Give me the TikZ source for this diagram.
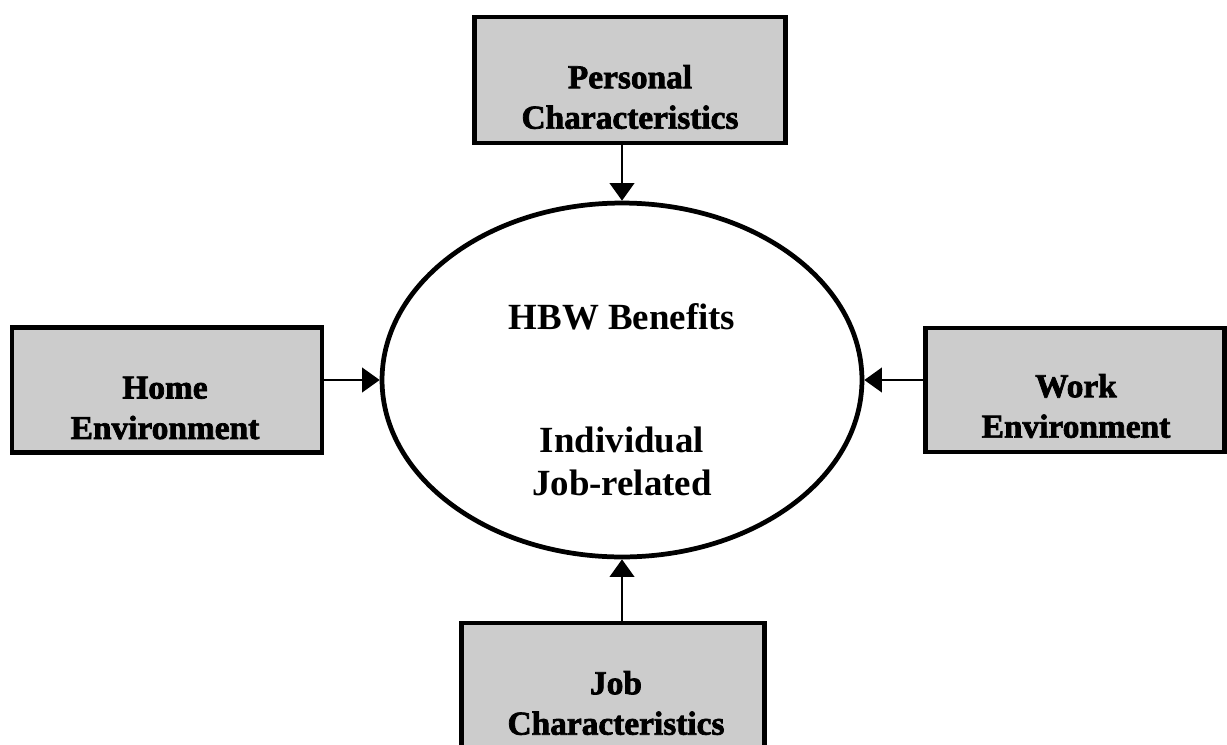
\documentclass[tikz,border=0pt]{standalone}
\usepackage{fontspec}
\setmainfont{Liberation Serif}
\newfontfamily\heavyfont[FakeBold=2.2]{Liberation Serif Bold}
\usetikzlibrary{shapes.geometric,arrows.meta}

\begin{document}
\begin{tikzpicture}[x=0.02cm,y=-0.02cm,
	factor/.style={draw,line width=2.8pt,fill=black!20,rectangle,inner sep=0pt},
	factorlabel/.style={align=center,font=\heavyfont\fontsize{19}{23}\selectfont},
	benefitlabel/.style={align=center,font=\bfseries\fontsize{21}{24.5}\selectfont},
	conn/.style={line width=1.2pt,-{Triangle[length=10pt,width=14pt]}}]
	%frame
	\useasboundingbox (0,0) rectangle (1227,744);
	\clip (0,0) rectangle (1227,744);
	
	%centre
	\node[draw,ellipse,line width=2.7pt,minimum width=9.6cm,minimum height=7.08cm,inner sep=0pt] (hbw) at (622,380) {}; %HBW ellipse
	\node[benefitlabel] (hbwtitle) at (622,317) {HBW Benefits};
	\node[benefitlabel] (hbwkinds) at (622,461) {Individual\\Job-related};
	
	%boxes
	\node[factor,minimum width=6.22cm,minimum height=2.52cm] (pers) at (630,80) {}; %top
	\node[factorlabel] (perslabel) at (630,97) {Personal\\Characteristics};
	\node[factor,minimum width=6.2cm,minimum height=2.5cm] (home) at (167,390) {}; %left
	\node[factorlabel] (homelabel) at (165,408) {Home\\Environment};
	\node[factor,minimum width=5.98cm,minimum height=2.48cm] (work) at (1075,390) {}; %right
	\node[factorlabel] (worklabel) at (1076,406) {Work\\Environment};
	\node[factor,minimum width=6.06cm,minimum height=3.2cm] (job) at (613,703) {}; %bottom
	\node[factorlabel] (joblabel) at (616,703) {Job\\Characteristics};
	
	%arrows
	\draw[conn] (hbw.north |- pers.south) -- (hbw.north); %personal
	\draw[conn] (home.east |- hbw.west) -- (hbw.west); %home
	\draw[conn] (work.west |- hbw.east) -- (hbw.east); %work
	\draw[conn] (hbw.south |- job.north) -- (hbw.south); %job
\end{tikzpicture}
\end{document}
